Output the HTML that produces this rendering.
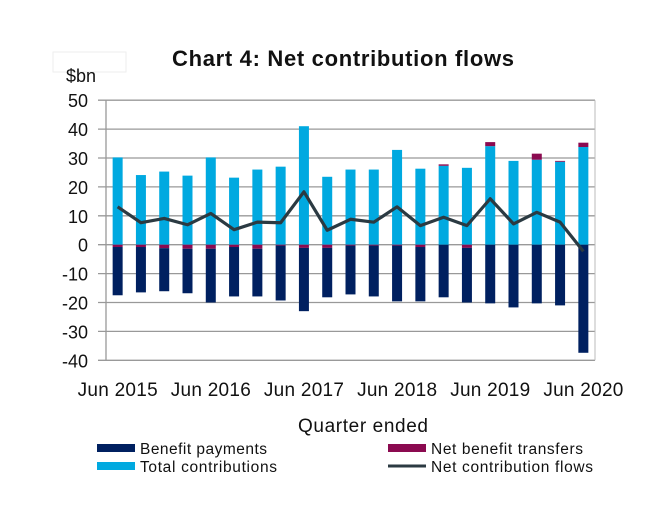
<!DOCTYPE html>
<html><head><meta charset="utf-8"><style>
body{margin:0;background:#fff;font-family:"Liberation Sans",sans-serif;}
svg text{font-family:"Liberation Sans",sans-serif;fill:#111;}
</style></head><body>
<svg width="660" height="517" id="c">
<rect x="0" y="0" width="660" height="517" fill="#fff"/>
<rect x="53" y="52" width="73" height="20" fill="none" stroke="#eee"/>
<text x="343" y="66" font-size="22" font-weight="bold" text-anchor="middle" textLength="342">Chart 4: Net contribution flows</text>
<text x="66" y="82" font-size="18">$bn</text>
<text x="363" y="432" font-size="19" text-anchor="middle" textLength="130">Quarter ended</text>
<g id="grid"></g><g id="bars"></g><g id="line"></g>
<g>
<rect x="97" y="444" width="38" height="8" fill="#002060"/>
<text x="140" y="454" font-size="15.5" textLength="127">Benefit payments</text>
<rect x="97" y="462" width="38" height="8" fill="#00a9e0"/>
<text x="140" y="472" font-size="15.5" textLength="137">Total contributions</text>
<rect x="388" y="444" width="38" height="8" fill="#8b0a50"/>
<text x="431" y="454" font-size="15.5" textLength="152">Net benefit transfers</text>
<line x1="388" y1="466" x2="426" y2="466" stroke="#2b3a42" stroke-width="3"/>
<text x="431" y="472" font-size="15.5" textLength="162">Net contribution flows</text>
</g>
</svg>
<script>
const categories=["Jun 2015","Sep 2015","Dec 2015","Mar 2016","Jun 2016","Sep 2016","Dec 2016","Mar 2017","Jun 2017","Sep 2017","Dec 2017","Mar 2018","Jun 2018","Sep 2018","Dec 2018","Mar 2019","Jun 2019","Sep 2019","Dec 2019","Mar 2020","Jun 2020"];
const contributions=[30.2,24.1,25.3,23.9,30.2,23.2,26,27,41,23.5,26,26,32.8,26.3,27.3,26.6,34.1,29,29.4,28.7,33.8];
const transfers=[-0.8,-0.8,-1.2,-1.4,-1.4,-0.8,-1.4,-0.3,-1.1,-1.1,-0.3,-0.3,-0.3,-0.8,0.5,-1.1,1.4,0,2.1,0.3,1.5];
const benefits=[-16.7,-15.7,-14.9,-15.4,-18.6,-17.1,-16.5,-19,-21.9,-17.1,-16.9,-17.6,-19.3,-18.8,-18.2,-18.9,-20.3,-21.7,-20.3,-21,-37.4];
const netFlows=[13.1,7.6,9.1,6.9,10.8,5.2,7.8,7.6,18.3,5.0,8.8,7.8,13.1,6.6,9.5,6.6,15.9,7.2,11.2,7.8,-2.3];
const yTicks=[50,40,30,20,10,0,-10,-20,-30,-40];
const xTickLabels=["Jun 2015","Jun 2016","Jun 2017","Jun 2018","Jun 2019","Jun 2020"];
const NS="http://www.w3.org/2000/svg";
const L=106,R=595,Y0=244.7,PX=2.89;
const y=v=>Y0-v*PX;
const bw=(R-L)/categories.length;
const xc=i=>L+bw*(i+0.5);
function mk(t,a,p){const e=document.createElementNS(NS,t);for(const k in a)e.setAttribute(k,a[k]);document.getElementById(p).appendChild(e);return e;}
yTicks.forEach(v=>{
 const g=mk("line",{x1:L-8,x2:R,y1:y(v),y2:y(v),stroke:"#999","stroke-width":1.3},"grid");
 
 
 const t=mk("text",{x:L-18,y:y(v)+7,"font-size":18,"text-anchor":"end"},"grid");t.textContent=v;
 
 
});
const ax=mk("line",{x1:L,x2:L,y1:y(50),y2:y(-40),stroke:"#999","stroke-width":1.3},"grid");


const ax2=mk("line",{x1:R,x2:R,y1:y(50),y2:y(-40),stroke:"#bbb","stroke-width":1},"grid");


categories.forEach((c,i)=>{
 const cx=xc(i),w=10;
 const cb=mk("rect",{x:cx-w/2,y:y(contributions[i]),width:w,height:contributions[i]*PX,fill:"#00a9e0"},"bars");
 
 
 const tr=transfers[i];let base=0;
 if(tr>0){const r=mk("rect",{x:cx-w/2,y:y(contributions[i]+tr),width:w,height:tr*PX,fill:"#8b0a50"},"bars");
  
  }
 else if(tr<0){const r=mk("rect",{x:cx-w/2,y:y(0),width:w,height:-tr*PX,fill:"#8b0a50"},"bars");
  
  base=tr;}
 const b=mk("rect",{x:cx-w/2,y:y(base),width:w,height:-benefits[i]*PX,fill:"#002060"},"bars");
 
 
 const li=xTickLabels.indexOf(c);
 if(li>=0){const t=mk("text",{x:cx,y:396,"font-size":19,"text-anchor":"middle",textLength:80},"grid");t.textContent=c;
  
  }
});
const p=mk("polyline",{points:netFlows.map((v,i)=>xc(i)+","+y(v)).join(" "),fill:"none",stroke:"#2b3a42","stroke-width":3.2,"stroke-linejoin":"round"},"line");


</script>
</body></html>
